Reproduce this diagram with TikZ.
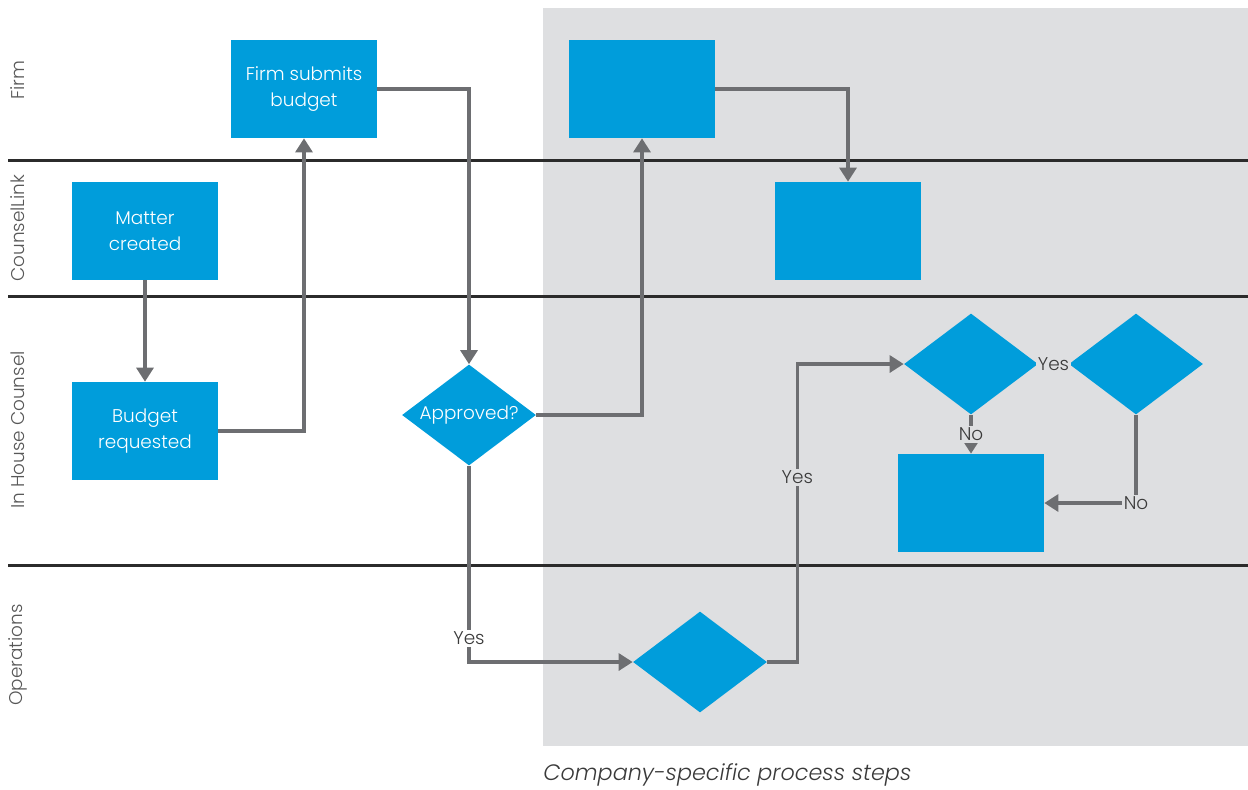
\documentclass[tikz,border=0pt]{standalone}
\usepackage{fontspec}
\setmainfont{Poppins}[UprightFont=* Light, ItalicFont=* Light Italic]
\usetikzlibrary{shapes.geometric, arrows.meta}

\definecolor{stepblue}{HTML}{009DDB}
\definecolor{custombg}{HTML}{DEDFE1}
\definecolor{flowgray}{HTML}{6D6E71}
\definecolor{lanegray}{HTML}{2B2B2B}
\definecolor{textgray}{HTML}{3A3A3A}

\begin{document}
\begin{tikzpicture}
            [x=0.02cm, y=-0.02cm, font=\fontsize{10.5}{14.8}\selectfont,
             stepbox/.style={shape=rectangle, fill=stepblue, text=white, align=center,
                             minimum width=2.92cm, minimum height=1.96cm, inner sep=0pt},
             choice/.style={shape=diamond, fill=stepblue, text=white, inner sep=0pt, shape aspect=1.33,
                            minimum width=2.68cm, minimum height=2.02cm},
             flow/.style={draw=flowgray, line width=1.8pt, -{Triangle[length=0.28cm, width=0.34cm]}},
             plain/.style={draw=flowgray, line width=1.8pt},
             lane/.style={draw=lanegray, line width=1.7pt},
             lanename/.style={rotate=90, text=textgray!85},
             answer/.style={text=textgray, inner sep=1pt}]
            \useasboundingbox (0,0) rectangle (1248,789);
            % shaded area for the company steps
            \fill[custombg] (543,8) rectangle (1248,746);
            \node[text=textgray, anchor=west, inner sep=0pt, font=\fontsize{12.7}{15}\selectfont\itshape] (caption) at (543,775) {Company-specific process steps};

            % swim lanes
            \draw[lane] (8,160) -- (1248,160);
            \draw[lane] (8,296) -- (1248,296);
            \draw[lane] (8,565) -- (1248,565);
            \node[lanename] (firmlane) at (18,80) {Firm};
            \node[lanename] (linklane) at (18,228) {CounselLink};
            \node[lanename] (counsellane) at (18,430) {In House Counsel};
            \node[lanename] (opslane) at (18,655) {Operations};

            % steps
            \node[stepbox] (submit) at (304,89) {Firm submits\\budget};
            \node[stepbox] (firmstep) at (642,89) {};
            \node[stepbox] (matter) at (145,231) {Matter\\created};
            \node[stepbox] (linkstep) at (848,231) {};
            \node[stepbox] (request) at (145,431) {Budget\\requested};
            \node[choice] (approved) at (469,415) {Approved?};
            \node[choice] (checkA) at (971,364) {};
            \node[choice] (checkB) at (1136,364) {};
            \node[stepbox] (counselstep) at (971,503) {};
            \node[choice] (opscheck) at (700,662) {};

            \path [flow] (matter) -- (request);
            \path [flow] (request.east) -| (submit.south);
            \path [flow] (submit.east) -| (approved.north);
            \path [flow] (approved.east) -| (firmstep.south);
            \path [flow] (firmstep.east) -| (linkstep.north);
            \path [flow] (approved.south) |- node[answer, pos=0.44, fill=white] {Yes} (opscheck.west);
            \path [flow] (opscheck.east) -- ++(30,0) |- node[answer, pos=0.31, fill=custombg] {Yes} (checkA.west);
            \path [plain] (checkA.east) -- node[answer, fill=custombg] {Yes} (checkB.west);
            \path [flow] (checkA.south) -- node[answer, fill=custombg] {No} (counselstep.north);
            \path [flow] (checkB.south) |- node[answer, fill=custombg] {No} (counselstep.east);
        \end{tikzpicture}
\end{document}
